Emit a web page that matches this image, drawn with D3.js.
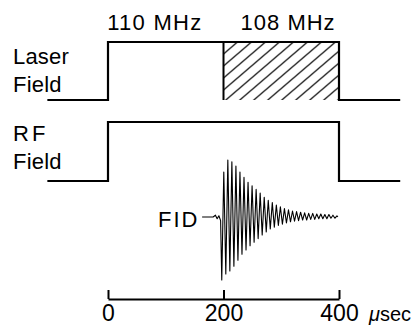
<!DOCTYPE html>
<html>
<head>
<meta charset="utf-8">
<script src="https://cdn.jsdelivr.net/npm/d3@7"></script>
<style>
  html, body { margin: 0; padding: 0; background: #fff; }
  svg { display: block; }
  text { font-family: "Liberation Sans", Arial, Helvetica, sans-serif; fill: #000; }
</style>
</head>
<body>
<svg id="chart" width="419" height="329"></svg>
<script>
// ---- data ----
const pulseTimes = [-105, 0, 400, 506];          // µsec, step change points
const laserLevel = [0, 1, 0, 0];
const rfLevel    = [0, 1, 0, 0];
const hatchSpan  = [200, 400];                   // 108 MHz interval
const freqLabels = ["110 MHz", "108 MHz"];
const freqLabelAt = [80, 311];                   // µsec, label centre
const rowLabels  = [["Laser", "Field"], ["RF", "Field"]];
const axisTicks  = [0, 200, 400];
const axisUnit   = "sec";

// FID trace: time (µsec) and signal (relative) of each turning point
const fidTime = [164, 182, 186, 189, 192, 195,
  197, 200.5, 204, 207.5, 211, 214.5, 218, 221.5, 225, 228.5,
  232, 235.5, 239, 242.5, 246, 249.5, 253, 256.5, 260, 263.5,
  267, 270.5, 274, 277.5, 281, 284.5, 288, 291.5, 295, 298.5,
  302, 305.5, 309, 312.5, 316, 319.5, 323, 326.5, 330, 333.5,
  337, 340.5, 344, 347.5, 351, 354.5, 358, 361.5, 365, 368.5,
  372, 375.5, 379, 382.5, 386, 389.5, 393, 396.5, 398];
const fidValue = [0, 0, 0.03, -0.03, 0.02, -0.06,
  -1.05, 0.75, -0.95, 0.95, -0.9, 0.92, -0.82, 0.85, -0.72, 0.75,
  -0.62, 0.66, -0.55, 0.58, -0.48, 0.52, -0.42, 0.46, -0.36, 0.4,
  -0.3, 0.33, -0.25, 0.28, -0.2, 0.24, -0.17, 0.2, -0.14, 0.17,
  -0.12, 0.14, -0.1, 0.12, -0.08, 0.1, -0.07, 0.09, -0.06, 0.08,
  -0.05, 0.07, -0.05, 0.06, -0.04, 0.06, -0.04, 0.05, -0.03, 0.05,
  -0.03, 0.04, -0.03, 0.04, -0.02, 0.03, -0.02, 0.02, 0];

// ---- drawing ----
const svg = d3.select("#chart");
const x = d3.scaleLinear().domain([0, 400]).range([108, 339]);
const yLaser = d3.scaleLinear().domain([0, 1]).range([100, 42]);
const yRF    = d3.scaleLinear().domain([0, 1]).range([181, 122]);
const yFid   = d3.scaleLinear().domain([-1, 1]).range([277, 157]);

// hatch pattern
const defs = svg.append("defs");
const pat = defs.append("pattern")
  .attr("id", "hatch").attr("patternUnits", "userSpaceOnUse")
  .attr("width", 14).attr("height", 12)
  .attr("x", x(200)).attr("y", yLaser(1));
pat.append("path")
  .attr("d", "M-7,6 L7,-6 M0,12 L14,0 M7,18 L21,6")
  .attr("stroke", "#000").attr("stroke-width", 1.2);

// hatched interval
svg.append("rect")
  .attr("x", x(hatchSpan[0])).attr("y", yLaser(1))
  .attr("width", x(hatchSpan[1]) - x(hatchSpan[0]))
  .attr("height", yLaser(0) - yLaser(1))
  .attr("fill", "url(#hatch)");
svg.append("line")
  .attr("x1", x(hatchSpan[0])).attr("x2", x(hatchSpan[0]))
  .attr("y1", yLaser(1)).attr("y2", yLaser(0))
  .attr("stroke", "#000").attr("stroke-width", 2);

const stepLine = (ys) => d3.line()
  .x(d => x(d[0])).y(d => ys(d[1]))
  .curve(d3.curveStepAfter);

svg.append("path")
  .datum(d3.zip(pulseTimes, laserLevel))
  .attr("d", stepLine(yLaser))
  .attr("fill", "none").attr("stroke", "#000").attr("stroke-width", 2.2);

svg.append("path")
  .datum(d3.zip(pulseTimes, rfLevel))
  .attr("d", stepLine(yRF))
  .attr("fill", "none").attr("stroke", "#000").attr("stroke-width", 2.2);

// FID
svg.append("path")
  .datum(d3.zip(fidTime, fidValue))
  .attr("d", d3.line().x(d => x(d[0])).y(d => yFid(d[1])))
  .attr("fill", "none").attr("stroke", "#000").attr("stroke-width", 1.1)
  .attr("stroke-linejoin", "round");

// frequency labels
svg.selectAll("text.freq").data(freqLabels).join("text")
  .attr("class", "freq")
  .attr("x", (d, i) => x(freqLabelAt[i]))
  .attr("y", 30)
  .attr("text-anchor", "middle")
  .attr("font-size", 22)
  .attr("textLength", 94).attr("lengthAdjust", "spacing")
  .text(d => d);

// row labels
const rowY = [[64, 92], [141, 169]];
rowLabels.forEach((lines, r) => {
  lines.forEach((t, k) => {
    svg.append("text")
      .attr("x", 13).attr("y", rowY[r][k])
      .attr("font-size", 22)
      .attr("letter-spacing", t === "RF" ? 3 : 0.2)
      .text(t);
  });
});

// FID label
svg.append("text")
  .attr("x", 158).attr("y", 227)
  .attr("font-size", 22).attr("letter-spacing", 2)
  .text("FID");
svg.append("line")
  .attr("x1", 202).attr("x2", x(fidTime[0]))
  .attr("y1", yFid(0)).attr("y2", yFid(0))
  .attr("stroke", "#000").attr("stroke-width", 1.2);

// time axis
const axis = d3.axisBottom(x).tickValues(axisTicks)
  .tickSizeInner(-9).tickSizeOuter(0).tickPadding(6)
  .tickFormat(d3.format("d"));
const gAxis = svg.append("g").attr("transform", "translate(0,299)").call(axis);
gAxis.select(".domain").attr("stroke", "#000").attr("stroke-width", 2);
gAxis.selectAll(".tick line").attr("stroke", "#000").attr("stroke-width", 2);
gAxis.selectAll(".tick text")
  .attr("font-family", "'Liberation Sans', Arial, sans-serif")
  .attr("font-size", 23).attr("fill", "#000");

const unit = svg.append("text").attr("x", 369).attr("y", 321).attr("font-size", 20);
unit.append("tspan").attr("font-style", "italic").text("\u03bc");
unit.append("tspan").text(axisUnit);
</script>
</body>
</html>
